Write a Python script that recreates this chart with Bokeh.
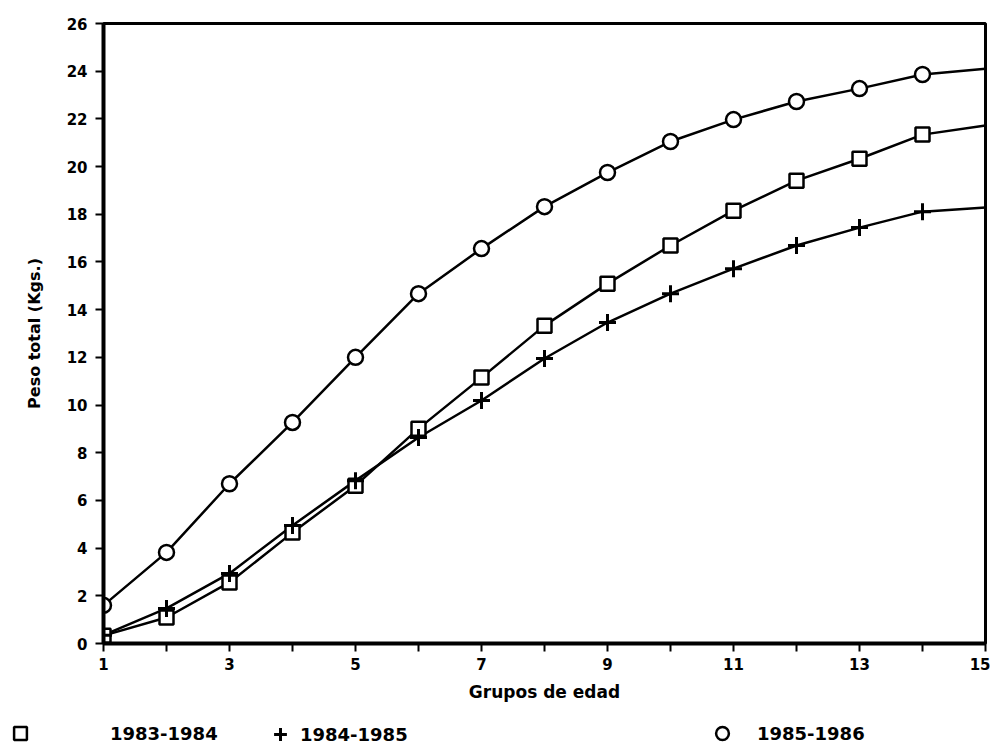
from bokeh.plotting import figure
from bokeh.models import Range1d, FixedTicker, Legend, LegendItem
from bokeh.embed import file_html
from bokeh.resources import INLINE

# ---- data ----
groups = list(range(1, 15))           # age groups with markers
groups_line = list(range(1, 16))      # curves reach group 15
s1983 = [0.33, 1.09, 2.56, 4.65, 6.62, 9.01, 11.15, 13.33, 15.09, 16.69, 18.15, 19.41, 20.33, 21.34]
s1984 = [0.35, 1.47, 2.94, 4.95, 6.83, 8.64, 10.19, 11.95, 13.46, 14.67, 15.72, 16.69, 17.44, 18.11]
s1985 = [1.60, 3.82, 6.70, 9.27, 12.00, 14.67, 16.56, 18.32, 19.75, 21.05, 21.97, 22.73, 23.27, 23.86]
end_1983, end_1984, end_1985 = 21.72, 18.28, 24.10
labels = ["1983-1984", "1984-1985", "1985-1986"]
x_ticks = list(range(1, 16))
x_tick_labels = {i: (str(i) if i % 2 == 1 else "") for i in x_ticks}
y_ticks = list(range(0, 27, 2))

FONT = "DejaVu Sans"

p = figure(width=990, height=710, output_backend="svg", toolbar_location=None,
           x_range=Range1d(1, 15), y_range=Range1d(0, 26),
           min_border_left=103, min_border_right=5, min_border_top=23, min_border_bottom=67)

p.grid.visible = False
p.outline_line_color = "black"
p.outline_line_width = 3
p.background_fill_color = "white"
p.border_fill_color = "white"

for ax in (p.xaxis[0], p.yaxis[0]):
    ax.axis_line_width = 4
    ax.axis_line_color = "black"
    ax.major_tick_line_width = 2
    ax.major_tick_out = 8
    ax.major_tick_in = 0
    ax.minor_tick_line_color = None
    ax.major_label_text_font = FONT
    ax.major_label_text_font_style = "bold"
    ax.major_label_text_font_size = "15px"
    ax.major_label_text_color = "black"
    ax.axis_label_text_font = FONT
    ax.axis_label_text_font_style = "bold"
    ax.axis_label_text_color = "black"

p.xaxis.ticker = FixedTicker(ticks=x_ticks)
p.xaxis.major_label_overrides = x_tick_labels
p.xaxis.major_label_standoff = 6
p.xaxis.axis_label = "Grupos de edad"
p.xaxis.axis_label_text_font_size = "17px"
p.xaxis.axis_label_standoff = 9

p.yaxis.ticker = FixedTicker(ticks=y_ticks)
p.yaxis.major_label_standoff = 8
p.yaxis.axis_label = "Peso total (Kgs.)"
p.yaxis.axis_label_text_font_size = "16px"
p.yaxis.axis_label_standoff = 20

LW = 2.5
p.line(groups_line, s1983 + [end_1983], line_color="black", line_width=LW)
p.line(groups_line, s1984 + [end_1984], line_color="black", line_width=LW)
p.line(groups_line, s1985 + [end_1985], line_color="black", line_width=LW)

SQ = dict(marker="square", size=14, fill_color="white", line_color="black", line_width=2.5)
PL = dict(marker="cross", size=17, line_color="black", line_width=3)
CI = dict(marker="circle", size=15, fill_color="white", line_color="black", line_width=2.5)

p.scatter(groups, s1983, **SQ)
p.scatter(groups, s1984, **PL)
p.scatter(groups, s1985, **CI)

# ---- legend strip below the chart (separate root, so no frame alignment) ----
lf = figure(width=990, height=40, output_backend="svg", toolbar_location=None,
            x_range=Range1d(0, 1), y_range=Range1d(0, 1),
            min_border_left=0, min_border_right=0, min_border_top=0, min_border_bottom=0,
            x_axis_type=None, y_axis_type=None)
lf.grid.visible = False
lf.outline_line_color = None
lf.background_fill_color = "white"
lf.border_fill_color = "white"

nan = float("nan")
d_sq = lf.scatter([nan], [nan], **SQ)
d_pl = lf.scatter([nan], [nan], **PL)
d_ci = lf.scatter([nan], [nan], **CI)

G = 32

def make_legend(renderer, label, loc, standoff):
    lg = Legend(items=[LegendItem(label=label, renderers=[renderer])],
                location=loc, orientation="horizontal",
                border_line_color=None, background_fill_alpha=0,
                padding=0, margin=0, glyph_width=G, glyph_height=G,
                label_standoff=standoff, label_text_font=FONT,
                label_text_font_style="bold", label_text_font_size="18px",
                label_text_color="black", label_height=G)
    lf.add_layout(lg, "center")

make_legend(d_sq, labels[0], (4, 1), 74)
make_legend(d_pl, labels[1], (264, 0), 4)
make_legend(d_ci, labels[2], (706, 1), 19)

open("out.html", "w").write(file_html([p, lf], INLINE))
